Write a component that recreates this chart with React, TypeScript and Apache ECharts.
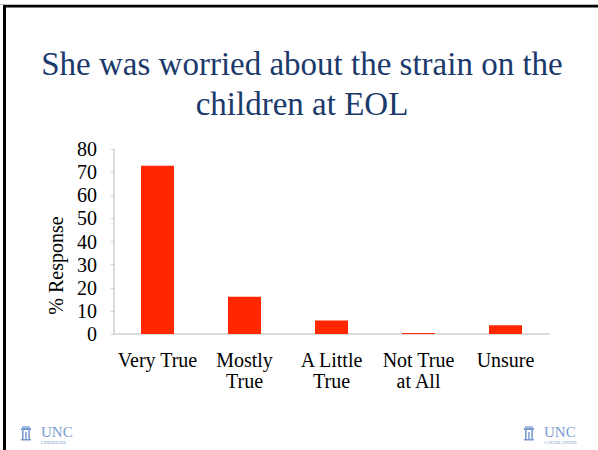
import React, { useEffect, useRef } from "react";
import * as echarts from "echarts";

const categories = ["Very True", "Mostly\nTrue", "A Little\nTrue", "Not True\nat All", "Unsure"];
const responses = [72.8, 16.1, 5.8, 0.4, 3.8];
const yTicks = { min: 0, max: 80, interval: 10 };
const titleLines = ["She was worried about the strain on the", "children at EOL"];
const yName = "% Response";

const SERIF = "Liberation Serif, Times New Roman, DejaVu Serif, serif";
const LOGO = "#7a9bd0";
const TITLE_COLOR = "#1b3a6b";

function logo(x: number, y: number, sub: string) {
  return {
    type: "group",
    x,
    y,
    children: [
      { type: "rect", shape: { x: 0, y: 2, width: 10, height: 2 }, style: { fill: LOGO } },
      { type: "rect", shape: { x: 1, y: 4, width: 1.6, height: 9 }, style: { fill: LOGO } },
      { type: "rect", shape: { x: 4.2, y: 6, width: 1.5, height: 7 }, style: { fill: LOGO } },
      { type: "rect", shape: { x: 7.3, y: 4, width: 1.6, height: 9 }, style: { fill: LOGO } },
      { type: "rect", shape: { x: 0, y: 13, width: 10, height: 1.5 }, style: { fill: LOGO } },
      { type: "rect", shape: { x: 1, y: 0, width: 8, height: 2 }, style: { fill: "#a9bfe3" } },
      {
        type: "text",
        x: 20,
        y: -2,
        style: { text: "UNC", fontSize: 15, fontFamily: SERIF, fill: LOGO },
      },
      {
        type: "text",
        x: 20,
        y: 14,
        style: { text: sub, fontSize: 4, fontFamily: SERIF, fill: LOGO },
      },
    ],
  };
}

function titleLine(text: string, y: number) {
  return {
    type: "text",
    x: 302,
    y,
    style: {
      text,
      fontFamily: SERIF,
      fontSize: 33,
      fill: TITLE_COLOR,
      textAlign: "center",
      textVerticalAlign: "middle",
    },
  };
}

export default function App() {
  const ref = useRef<HTMLDivElement>(null);
  useEffect(() => {
    document.body.style.margin = "0";
    const chart = echarts.init(ref.current!, null, { renderer: "svg" });
    chart.setOption({
      animation: false,
      backgroundColor: "#ffffff",
      grid: { left: 114, right: 49, top: 149, bottom: 116 },
      xAxis: {
        type: "category",
        data: categories,
        axisLine: { lineStyle: { color: "#d0d0d0", width: 1.5 } },
        axisTick: { show: false },
        axisLabel: {
          color: "#000",
          fontFamily: SERIF,
          fontSize: 20,
          lineHeight: 21,
          margin: 15,
          interval: 0,
        },
      },
      yAxis: {
        type: "value",
        min: yTicks.min,
        max: yTicks.max,
        interval: yTicks.interval,
        name: yName,
        nameLocation: "middle",
        nameRotate: 90,
        nameGap: 48,
        nameTextStyle: { color: "#000", fontFamily: SERIF, fontSize: 20, padding: [0, 48, 0, 0] },
        axisLine: { show: true, lineStyle: { color: "#d0d0d0", width: 1.5 } },
        axisTick: { show: true, length: 3, lineStyle: { color: "#d0d0d0" } },
        splitLine: { show: false },
        axisLabel: { color: "#000", fontFamily: SERIF, fontSize: 20, margin: 17 },
      },
      series: [
        {
          type: "bar",
          data: responses,
          barWidth: 33,
          itemStyle: { color: "#ff2600" },
        },
      ],
      graphic: [
        { type: "rect", shape: { x: 0, y: 4, width: 598, height: 1 }, style: { fill: "#bbbbbb" } },
        { type: "rect", shape: { x: 3, y: 5, width: 595, height: 2.5 }, style: { fill: "#000" } },
        { type: "rect", shape: { x: 3, y: 5, width: 3, height: 445 }, style: { fill: "#000" } },
        titleLine(titleLines[0], 64),
        titleLine(titleLines[1], 104),
        logo(21, 426, "LINEBERGER"),
        logo(524, 426, "CANCER CENTER"),
      ],
    });
    return () => chart.dispose();
  }, []);
  return <div ref={ref} style={{ width: 598, height: 450 }} />;
}
